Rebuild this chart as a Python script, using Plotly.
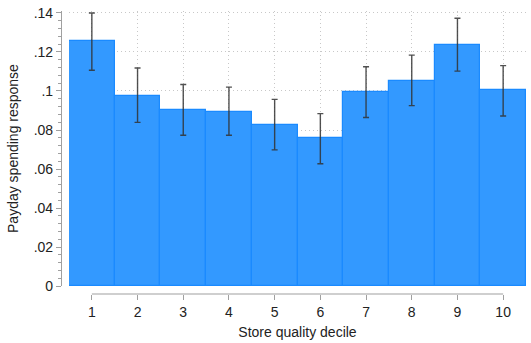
import plotly.graph_objects as go

deciles = [1, 2, 3, 4, 5, 6, 7, 8, 9, 10]
response = [0.1256, 0.0976, 0.0904, 0.0894, 0.0828, 0.0757, 0.0997, 0.1053, 0.1236, 0.1003]
ci_upper = [0.1400, 0.1118, 0.1033, 0.1020, 0.0957, 0.0884, 0.1124, 0.1184, 0.1373, 0.1130]
ci_lower = [0.1106, 0.0839, 0.0773, 0.0773, 0.0698, 0.0627, 0.0864, 0.0925, 0.1102, 0.0872]
y_ticks = [0, 0.02, 0.04, 0.06, 0.08, 0.10, 0.12, 0.14]
y_ticklabels = ["0", ".02", ".04", ".06", ".08", ".1", ".12", ".14"]

err_plus = [u - r for u, r in zip(ci_upper, response)]
err_minus = [r - l for r, l in zip(response, ci_lower)]

FONT = "Liberation Sans, Arial, Helvetica, sans-serif"
AXIS_GRAY = "#a0a0a0"
GRID = "#c8c8c8"

fig = go.Figure()
fig.add_trace(go.Bar(
    x=deciles, y=response, width=1.0,
    marker=dict(color="#3399ff", line=dict(color="#1a8aff", width=1.2)),
    error_y=dict(type="data", symmetric=False, array=err_plus, arrayminus=err_minus,
                 color="rgba(50,50,50,0.85)", thickness=1.4, width=3),
    showlegend=False,
))

fig.add_shape(type="line", xref="x", yref="paper", x0=1, x1=10, y0=0, y1=0,
              line=dict(color=AXIS_GRAY, width=1.2))

fig.update_layout(
    width=531, height=343,
    margin=dict(l=61, r=5, t=10, b=47),
    paper_bgcolor="white", plot_bgcolor="white",
    font=dict(family=FONT, size=14, color="#222222"),
    bargap=0,
    xaxis=dict(
        range=[0.5, 10.5], domain=[0.0172, 1], anchor="free", position=0,
        tickmode="array", tickvals=deciles, ticktext=[str(d) for d in deciles],
        ticks="outside", ticklen=5, tickcolor=AXIS_GRAY, tickwidth=1,
        showline=False, zeroline=False,
        showgrid=True, gridcolor=GRID, griddash="1px,3px", gridwidth=1,
        title=dict(text="Store quality decile", font=dict(size=14), standoff=8),
        tickfont=dict(size=14),
    ),
    yaxis=dict(
        range=[0, 0.141], domain=[0.028, 1], anchor="free", position=0,
        tickmode="array", tickvals=y_ticks, ticktext=y_ticklabels,
        ticks="outside", ticklen=5, tickcolor=AXIS_GRAY, tickwidth=1,
        showline=True, linecolor=AXIS_GRAY, linewidth=1.2,
        zeroline=False, ticklabeloverflow="allow",
        showgrid=True, gridcolor=GRID, griddash="1px,3px", gridwidth=1,
        minor=dict(dtick=0.004, tick0=0, ticks="outside", ticklen=2.5,
                   tickcolor=AXIS_GRAY, showgrid=False),
        title=dict(text="Payday spending response", font=dict(size=14), standoff=10),
        tickfont=dict(size=14),
    ),
)

# remove the browser's default 8px body margin so the figure sits at the page corner
fig.write_html("out.html", config={"displayModeBar": False},
               post_script="document.body.style.margin='0';")
